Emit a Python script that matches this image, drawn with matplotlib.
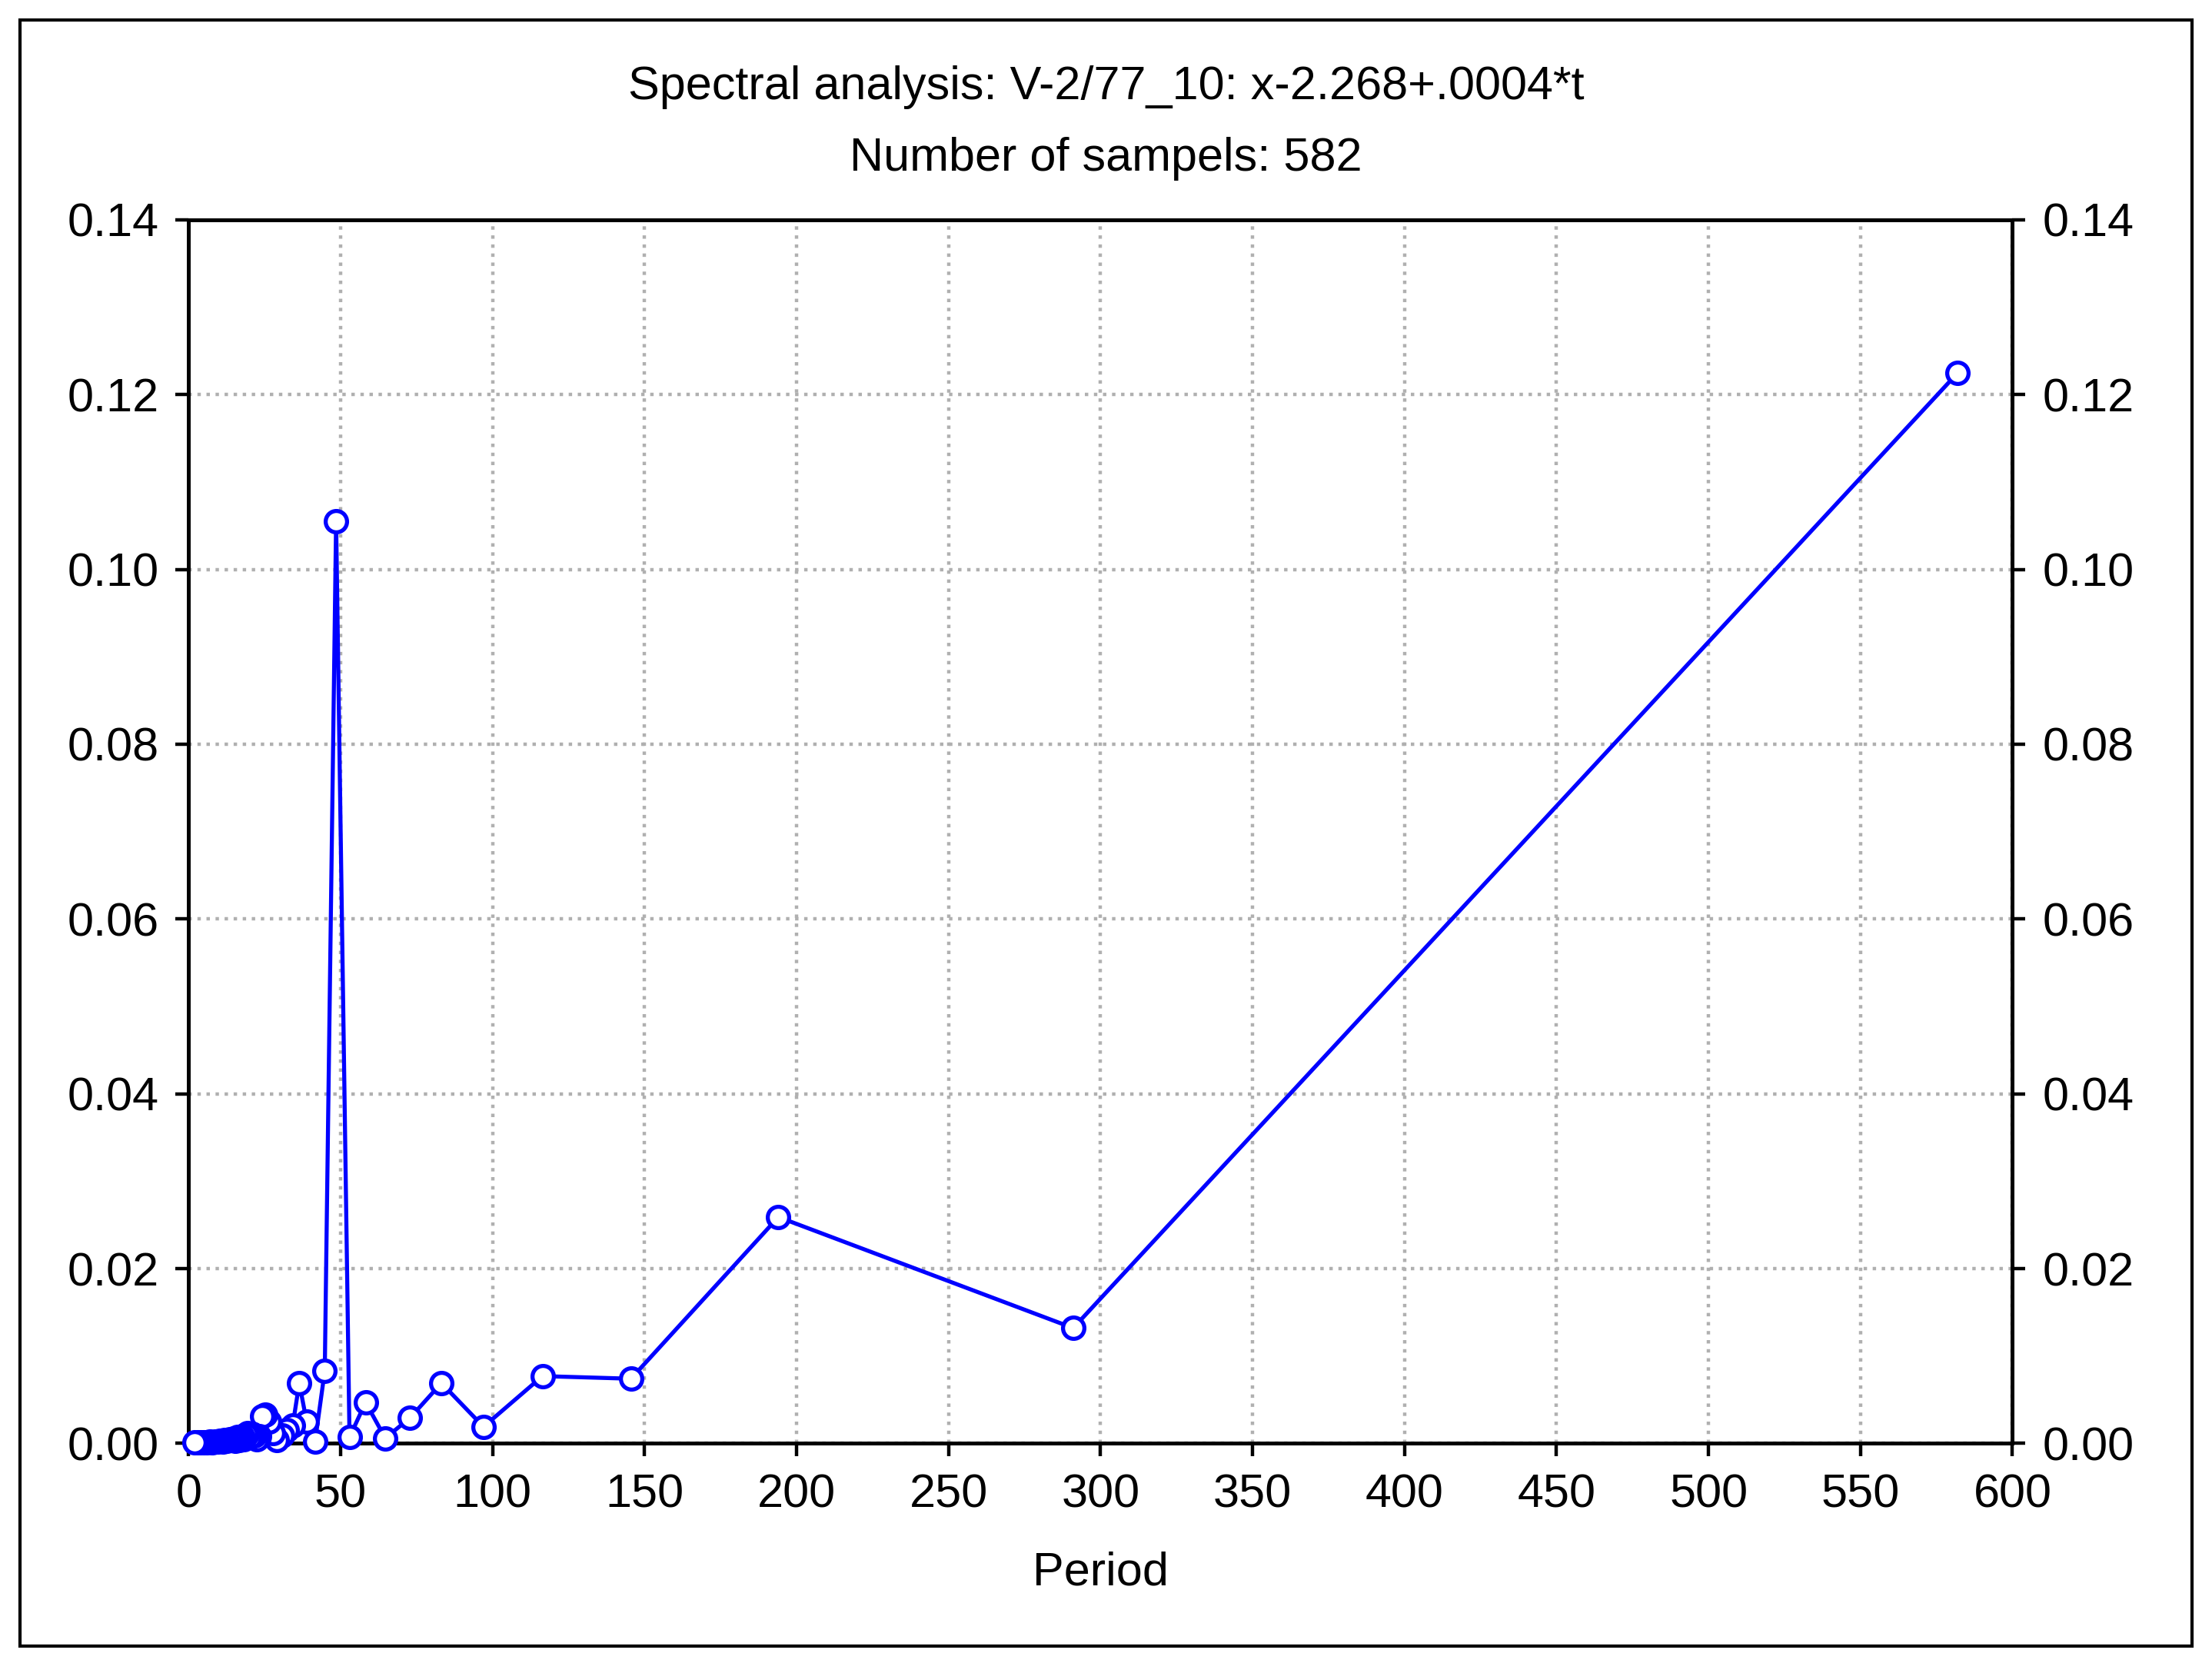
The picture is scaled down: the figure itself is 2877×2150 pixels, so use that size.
import matplotlib
matplotlib.use("Agg")
import matplotlib.pyplot as plt
from matplotlib.patches import Rectangle

plt.rcParams['font.family'] = ['Liberation Sans', 'DejaVu Sans']

period = [582, 291, 194, 145.5, 116.4, 97, 83.14, 72.75, 64.67, 58.2, 52.91, 48.5, 44.77, 41.57,
          38.8, 36.38, 34.24, 32.33, 30.63, 29.1, 27.71, 26.45, 25.3, 24.25, 23.28, 22.38, 21.56,
          20.79, 20.07, 19.4, 18.77, 18.19, 17.64, 17.12, 16.63, 16.17, 15.73, 15.32, 14.92, 14.55,
          13.53, 12.65, 11.88, 11.19, 10.21, 9.54, 8.69, 7.76, 6.93, 6.02, 5.02, 4.01, 3.01, 2.0]
power = [0.1225, 0.0132, 0.0259, 0.0074, 0.0077, 0.0019, 0.0069, 0.0029, 0.0006, 0.0047, 0.0007,
         0.1055, 0.0083, 0.0002, 0.0025, 0.0069, 0.0021, 0.0015, 0.0009, 0.0004, 0.0012, 0.0025,
         0.0033, 0.0031, 0.0008, 0.0005, 0.0009, 0.0011, 0.0007, 0.0012, 0.0010, 0.0005, 0.0008,
         0.0006, 0.0004, 0.0007, 0.0005, 0.0003, 0.0006, 0.0004, 0.0005, 0.0003, 0.0004, 0.0002,
         0.0003, 0.0002, 0.0002, 0.0001, 0.0002, 0.0001, 0.0001, 0.0001, 0.0001, 0.0001]

fig = plt.figure(figsize=(14.385, 10.75), dpi=200)
ax = fig.add_axes([0.0853, 0.1268, 0.8245, 0.7402])
ax.plot(period, power, color='#0000ff', lw=1.9, marker='o', ms=10, mfc='white', mec='#0000ff', mew=1.9, clip_on=False, zorder=3)
ax.set_xlim(0, 600)
ax.set_ylim(0, 0.14)
ax.set_xticks(range(0, 601, 50))
ax.set_yticks([0, 0.02, 0.04, 0.06, 0.08, 0.1, 0.12, 0.14])
ax.set_yticklabels([f"{v:.2f}" for v in ax.get_yticks()])
ax.grid(True, color='#b0b0b0', ls=':', lw=1.6)
ax.tick_params(labelsize=22, direction='out', length=6, width=1.6, pad=8, right=True, labelright=True)
for s in ax.spines.values():
    s.set_linewidth(1.8)
ax.set_xlabel('Period', fontsize=22, labelpad=16)
fig.text(0.5, 0.947, 'Spectral analysis: V-2/77_10: x-2.268+.0004*t', ha='center', va='center', fontsize=22)
fig.text(0.5, 0.904, 'Number of sampels: 582', ha='center', va='center', fontsize=22)
fig.patches.append(Rectangle((0.009, 0.004), 0.982, 0.984, transform=fig.transFigure, fill=False, ec='black', lw=1.5))
fig.savefig('out.png', dpi=200)
